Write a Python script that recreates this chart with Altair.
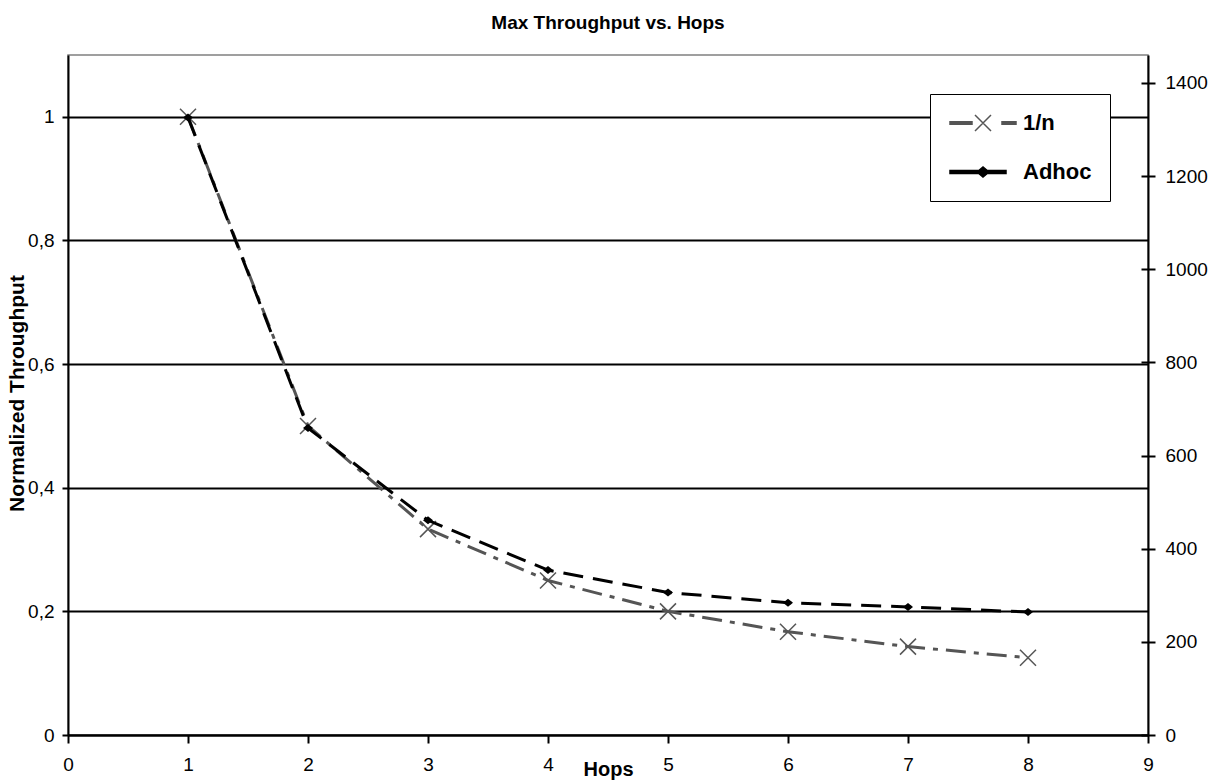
import altair as alt
import pandas as pd

# ---- data ----
HOPS = [1, 2, 3, 4, 5, 6, 7, 8]
ONE_OVER_N = [1.0, 0.5, 0.333, 0.25, 0.2, 0.167, 0.143, 0.125]
ADHOC = [1326, 659, 461, 354, 306, 284, 275, 264]
SERIES = ["1/n", "Adhoc"]
X_TICKS = [0, 1, 2, 3, 4, 5, 6, 7, 8, 9]
LEFT_TICKS = [0, 0.2, 0.4, 0.6, 0.8, 1.0]
RIGHT_TICKS = [0, 200, 400, 600, 800, 1000, 1200, 1400]

FONT = "Liberation Sans"
GRAY = "#555555"

df_n = pd.DataFrame({"hops": HOPS, "value": ONE_OVER_N, "series": SERIES[0]})
df_a = pd.DataFrame({"hops": HOPS, "value": ADHOC, "series": SERIES[1]})
df_leg = pd.DataFrame({"series": SERIES})

X_PATH = "M-1,-1L1,1M-1,1L1,-1"
DIAMOND_PATH = "M-1,0L0,-0.8L1,0L0,0.8Z"
LEG_1N = ("M-3.3,-0.13H-1.1V0.13H-3.3Z"
          "M-0.8,-0.8L0.8,0.8M-0.8,0.8L0.8,-0.8"
          "M1.9,-0.13H3.3V0.13H1.9Z")
LEG_AD = ("M-3.3,-0.15H2.3V0.15H-3.3Z"
          "M-0.6,0L0,-0.5L0.6,0L0,0.5Z")

AX = dict(labelFont=FONT, titleFont=FONT, labelFontSize=19, titleFontSize=20,
          titleFontWeight="bold", labelColor="black", titleColor="black",
          domainColor="black", tickColor="black", domainWidth=2, tickWidth=2)

x_enc = alt.X(
    "hops:Q",
    scale=alt.Scale(domain=[0, 9], nice=False, zero=False),
    axis=alt.Axis(values=X_TICKS, title="Hops", grid=False, tickSize=8,
                  labelPadding=12, titleY=40, titleBaseline="alphabetic",
                  labelFlush=False, format="d", **AX),
)

y_left = alt.Y(
    "value:Q",
    scale=alt.Scale(domain=[0, 1.1], nice=False),
    axis=alt.Axis(values=LEFT_TICKS, orient="left", title="Normalized Throughput",
                  grid=True, gridColor="black", gridWidth=2, gridOpacity=1,
                  labelExpr="replace(format(datum.value, '~g'), '.', ',')",
                  tickSize=6, labelPadding=8, titleX=-41, titleY=338,
                  labelFlush=False, **{**AX, "titleFontSize": 21}),
)

y_right = alt.Y(
    "value:Q",
    scale=alt.Scale(domain=[0, 1460], nice=False),
    axis=alt.Axis(values=RIGHT_TICKS, orient="right", title=None, grid=False,
                  tickSize=7, labelPadding=10, format="d", labelFlush=False, **AX),
)

y_right_in = alt.Y(
    "value:Q",
    scale=alt.Scale(domain=[0, 1460], nice=False),
    axis=alt.Axis(values=RIGHT_TICKS, orient="right", title=None, grid=False,
                  tickSize=7, labels=False, domain=False, offset=-7,
                  tickColor="black", tickWidth=2),
)

line_n = alt.Chart(df_n).mark_line(
    color=GRAY, strokeWidth=3, strokeDash=[20, 8, 5, 8]
).encode(x=x_enc, y=y_left)

pts_n = alt.Chart(df_n).mark_point(
    shape=X_PATH, size=256, filled=False, color=GRAY, strokeWidth=1.5, opacity=1
).encode(x=x_enc, y=y_left)

leg = alt.Legend(
    title=None, orient="none", legendX=862, legendY=39,
    padding=18, rowPadding=27, symbolSize=400, symbolOffset=24, labelOffset=29,
    symbolStrokeWidth=1.5, symbolOpacity=1,
    labelFont=FONT, labelFontSize=22, labelFontWeight="bold", labelColor="black",
    strokeColor="black", fillColor="white", cornerRadius=0,
)

legend_layer = alt.Chart(df_leg).mark_point(opacity=0, size=400).encode(
    x=alt.value(300),
    y=alt.value(300),
    shape=alt.Shape("series:N", scale=alt.Scale(domain=SERIES, range=[LEG_1N, LEG_AD]), legend=leg),
    fill=alt.Fill("series:N", scale=alt.Scale(domain=SERIES, range=[GRAY, "black"]), legend=leg),
    stroke=alt.Stroke("series:N", scale=alt.Scale(domain=SERIES, range=[GRAY, "black"]), legend=leg),
)

left = alt.layer(line_n, pts_n, legend_layer)

line_a = alt.Chart(df_a).mark_line(
    color="black", strokeWidth=3, strokeDash=[20, 10]
).encode(x=x_enc, y=y_right)

pts_a = alt.Chart(df_a).mark_point(
    shape=DIAMOND_PATH, size=100, filled=True, color="black", opacity=1
).encode(x=x_enc, y=y_right)

right = alt.layer(line_a, pts_a)

ticks_in = alt.Chart(df_a).mark_point(opacity=0).encode(x=x_enc, y=y_right_in)

chart = alt.layer(left, right, ticks_in).resolve_scale(
    y="independent"
).properties(
    width=1080,
    height=680,
    background="white",
    padding={"left": 68, "top": 55, "right": 70, "bottom": 45},
    autosize=alt.AutoSizeParams(type="none"),
    title=alt.TitleParams(
        "Max Throughput vs. Hops", font=FONT, fontSize=19, fontWeight="bold",
        color="black", anchor="middle", frame="group", offset=7,
        baseline="alphabetic",
    ),
).configure_view(
    stroke="#808080", strokeWidth=1.5
)

chart.save("out.html", embed_options={"renderer": "svg", "actions": False})
